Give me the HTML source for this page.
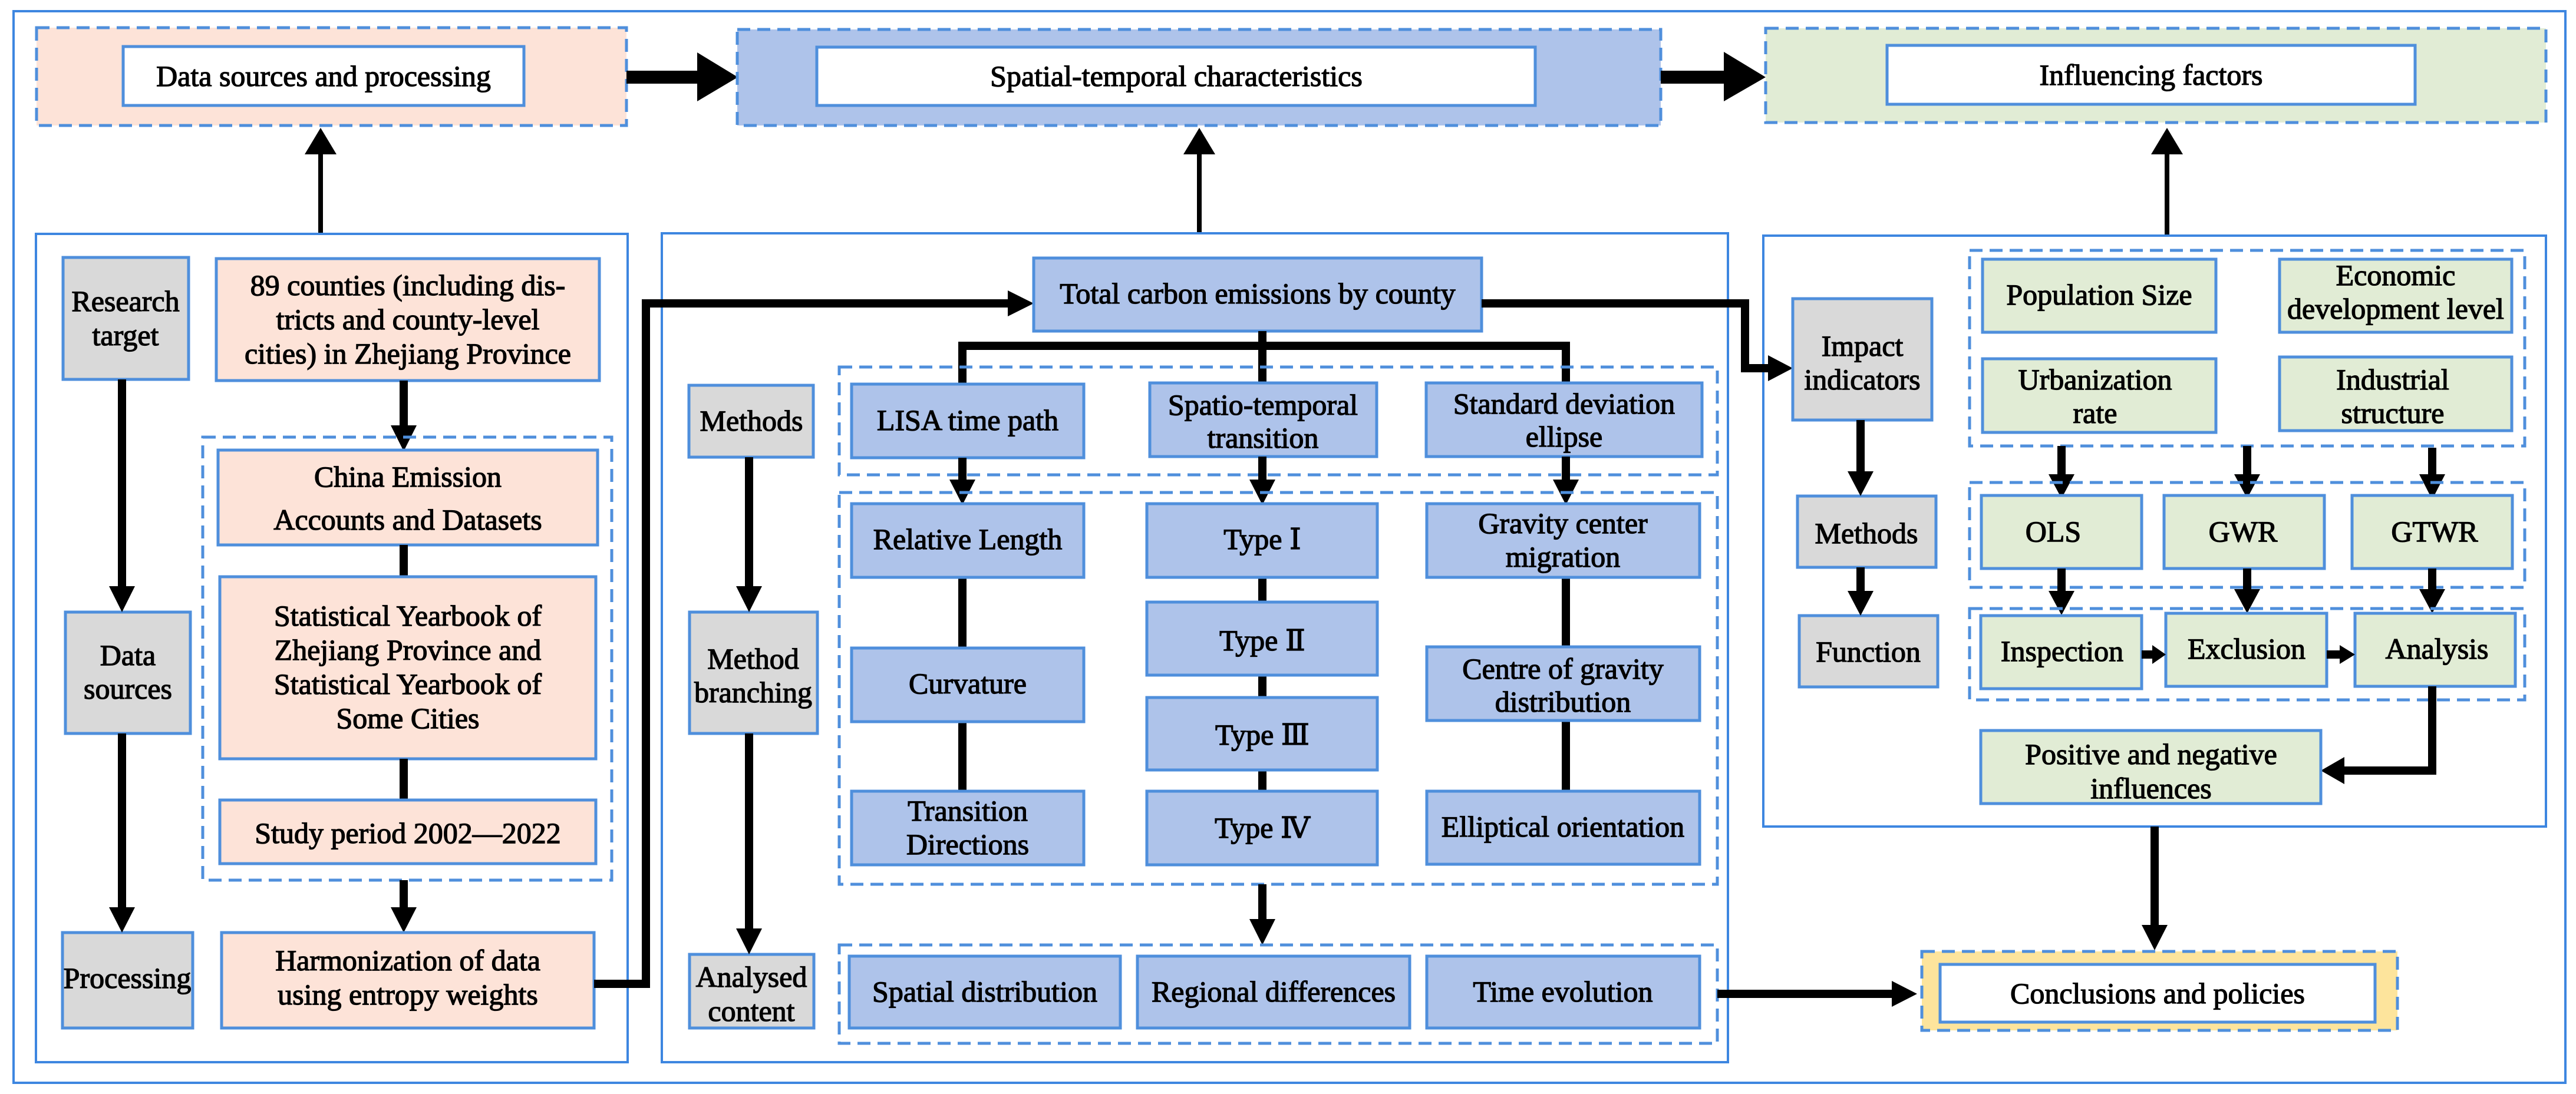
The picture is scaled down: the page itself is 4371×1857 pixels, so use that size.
<!DOCTYPE html>
<html><head><meta charset="utf-8"><style>
html,body{margin:0;padding:0;background:#fff}
svg{display:block}
text{font-family:"Liberation Serif","DejaVu Serif",serif;font-size:50px;fill:#000;stroke:#000;stroke-width:1.3;text-anchor:middle}
.b{stroke:#4f8fdc;stroke-width:5}
.d{stroke:#4f8fdc;stroke-width:5;stroke-dasharray:22 12}
.p{stroke:#3d86e0;stroke-width:4;fill:none}
.pk{fill:#fde3d8}.bl{fill:#aec3ea}.gr{fill:#e1ecd5}.gy{fill:#d9d9d9}.wh{fill:#fff}.ye{fill:#fde49c}
.l{stroke:#000;stroke-width:14;fill:none}
.t{stroke:#000;stroke-width:8;fill:none}
polygon{fill:#000}
</style></head><body>
<svg width="4371" height="1857" viewBox="0 0 4371 1857" xmlns="http://www.w3.org/2000/svg" font-family="Liberation Serif, DejaVu Serif, serif">
<rect x="23" y="19" width="4330" height="1819" class="p"/>

<!-- top row -->
<rect x="62" y="47" width="1001" height="166" class="pk d"/>
<rect x="209" y="79" width="680" height="100" class="wh b"/>
<text x="549" y="146">Data sources and processing</text>
<rect x="1063" y="120" width="122" height="22"/>
<polygon points="1183,89 1252,131 1183,172"/>
<rect x="1251" y="50" width="1567" height="163" class="bl d"/>
<rect x="1386" y="80" width="1219" height="99" class="wh b"/>
<text x="1996" y="146">Spatial-temporal characteristics</text>
<rect x="2818" y="120" width="109" height="22"/>
<polygon points="2925,88 2996,131 2925,172"/>
<rect x="2996" y="48" width="1324" height="160" class="gr d"/>
<rect x="3202" y="77" width="896" height="100" class="wh b"/>
<text x="3650" y="144">Influencing factors</text>

<line x1="544" y1="397" x2="544" y2="255" class="t"/>
<polygon points="517,262 571,262 544,217"/>
<line x1="2035" y1="396" x2="2035" y2="255" class="t"/>
<polygon points="2008,262 2062,262 2035,217"/>
<line x1="3677" y1="400" x2="3677" y2="255" class="t"/>
<polygon points="3650,262 3704,262 3677,217"/>

<!-- panels -->
<rect x="61" y="397" width="1004" height="1406" class="p"/>
<rect x="1123" y="396" width="1809" height="1407" class="p"/>
<rect x="2992" y="400" width="1328" height="1003" class="p"/>

<!-- left panel -->
<rect x="107" y="437" width="213" height="207" class="gy b"/>
<text x="213" y="528">Research</text><text x="213" y="586">target</text>
<rect x="367" y="439" width="650" height="207" class="pk b"/>
<text x="692" y="501">89 counties (including dis-</text>
<text x="692" y="559">tricts and county-level</text>
<text x="692" y="617">cities) in Zhejiang Province</text>
<line x1="685" y1="646" x2="685" y2="730" class="l"/>
<polygon points="663,722 707,722 685,766"/>
<rect x="344" y="742" width="694" height="752" fill="none" class="d"/>
<rect x="370" y="764" width="644" height="161" class="pk b"/>
<text x="692" y="826">China Emission</text><text x="692" y="899">Accounts and Datasets</text>
<line x1="685" y1="925" x2="685" y2="979" class="l"/>
<rect x="373" y="979" width="638" height="309" class="pk b"/>
<text x="692" y="1062">Statistical Yearbook of</text>
<text x="692" y="1120">Zhejiang Province and</text>
<text x="692" y="1178">Statistical Yearbook of</text>
<text x="692" y="1236">Some Cities</text>
<line x1="685" y1="1288" x2="685" y2="1358" class="l"/>
<rect x="373" y="1358" width="638" height="108" class="pk b"/>
<text x="692" y="1431">Study period 2002—2022</text>
<line x1="685" y1="1494" x2="685" y2="1545" class="l"/>
<polygon points="663,1540 707,1540 685,1583"/>
<rect x="376" y="1583" width="632" height="162" class="pk b"/>
<text x="692" y="1647">Harmonization of data</text>
<text x="692" y="1705">using entropy weights</text>
<rect x="111" y="1039" width="212" height="206" class="gy b"/>
<text x="217" y="1129">Data</text><text x="217" y="1186">sources</text>
<rect x="106" y="1583" width="221" height="162" class="gy b"/>
<text x="216" y="1677">Processing</text>
<line x1="207" y1="644" x2="207" y2="1000" class="l"/>
<polygon points="185,995 229,995 207,1039"/>
<line x1="207" y1="1245" x2="207" y2="1545" class="l"/>
<polygon points="185,1540 229,1540 207,1583"/>

<polyline points="1008,1670 1096,1670 1096,515 1715,515" class="l"/>
<polygon points="1710,493 1754,515 1710,537"/>

<!-- middle panel -->
<rect x="1754" y="438" width="760" height="124" class="bl b"/>
<text x="2134" y="515">Total carbon emissions by county</text>
<polyline points="1633,652 1633,587 2657,587 2657,650" class="l"/>
<line x1="2142" y1="562" x2="2142" y2="650" class="l"/>
<rect x="1424" y="623" width="1490" height="183" fill="none" class="d"/>
<rect x="1445" y="652" width="394" height="125" class="bl b"/>
<text x="1642" y="730">LISA time path</text>
<rect x="1951" y="650" width="385" height="125" class="bl b"/>
<text x="2143" y="704">Spatio-temporal</text><text x="2143" y="760">transition</text>
<rect x="2420" y="650" width="468" height="125" class="bl b"/>
<text x="2654" y="702">Standard deviation</text><text x="2654" y="758">ellipse</text>
<rect x="1169" y="654" width="211" height="122" class="gy b"/>
<text x="1275" y="731">Methods</text>

<line x1="1633" y1="777" x2="1633" y2="820" class="l"/><polygon points="1611,814 1655,814 1633,857"/>
<line x1="2142" y1="775" x2="2142" y2="820" class="l"/><polygon points="2120,814 2164,814 2142,857"/>
<line x1="2657" y1="775" x2="2657" y2="820" class="l"/><polygon points="2635,814 2679,814 2657,857"/>

<rect x="1424" y="836" width="1490" height="665" fill="none" class="d"/>
<line x1="1633" y1="980" x2="1633" y2="1343" class="l"/>
<line x1="2142" y1="980" x2="2142" y2="1343" class="l"/>
<line x1="2657" y1="980" x2="2657" y2="1343" class="l"/>
<rect x="1445" y="855" width="394" height="125" class="bl b"/>
<text x="1642" y="932">Relative Length</text>
<rect x="1946" y="855" width="391" height="125" class="bl b"/>
<text x="2142" y="932">Type Ⅰ</text>
<rect x="2421" y="855" width="463" height="125" class="bl b"/>
<text x="2652" y="905">Gravity center</text><text x="2652" y="962">migration</text>
<rect x="1445" y="1100" width="394" height="125" class="bl b"/>
<text x="1642" y="1177">Curvature</text>
<rect x="1946" y="1022" width="391" height="124" class="bl b"/>
<text x="2142" y="1104">Type Ⅱ</text>
<rect x="2421" y="1098" width="463" height="125" class="bl b"/>
<text x="2652" y="1152">Centre of gravity</text><text x="2652" y="1208">distribution</text>
<rect x="1946" y="1184" width="391" height="123" class="bl b"/>
<text x="2142" y="1264">Type Ⅲ</text>
<rect x="1445" y="1343" width="394" height="125" class="bl b"/>
<text x="1642" y="1393">Transition</text><text x="1642" y="1450">Directions</text>
<rect x="1946" y="1343" width="391" height="125" class="bl b"/>
<text x="2142" y="1422">Type Ⅳ</text>
<rect x="2421" y="1343" width="463" height="124" class="bl b"/>
<text x="2652" y="1420">Elliptical orientation</text>

<rect x="1170" y="1039" width="217" height="206" class="gy b"/>
<text x="1278" y="1135">Method</text><text x="1278" y="1192">branching</text>
<rect x="1170" y="1620" width="211" height="125" class="gy b"/>
<text x="1275" y="1675">Analysed</text><text x="1275" y="1733">content</text>
<line x1="1271" y1="776" x2="1271" y2="1000" class="l"/><polygon points="1249,995 1293,995 1271,1039"/>
<line x1="1271" y1="1245" x2="1271" y2="1580" class="l"/><polygon points="1249,1576 1293,1576 1271,1620"/>

<line x1="2142" y1="1501" x2="2142" y2="1565" class="l"/><polygon points="2120,1560 2164,1560 2142,1604"/>
<rect x="1424" y="1604" width="1490" height="167" fill="none" class="d"/>
<rect x="1441" y="1623" width="460" height="122" class="bl b"/>
<text x="1671" y="1700">Spatial distribution</text>
<rect x="1930" y="1623" width="462" height="122" class="bl b"/>
<text x="2161" y="1700">Regional differences</text>
<rect x="2421" y="1623" width="463" height="122" class="bl b"/>
<text x="2652" y="1700">Time evolution</text>
<line x1="2914" y1="1687" x2="3215" y2="1687" class="l"/>
<polygon points="3210,1665 3253,1687 3210,1709"/>

<!-- right panel -->
<polyline points="2514,515 2961,515 2961,625 3005,625" class="l"/>
<polygon points="3000,603 3042,625 3000,647"/>
<rect x="3042" y="507" width="236" height="206" class="gy b"/>
<text x="3160" y="604">Impact</text><text x="3160" y="661">indicators</text>
<rect x="3050" y="842" width="235" height="121" class="gy b"/>
<text x="3167" y="922">Methods</text>
<rect x="3053" y="1045" width="235" height="121" class="gy b"/>
<text x="3170" y="1123">Function</text>
<line x1="3157" y1="713" x2="3157" y2="805" class="l"/><polygon points="3135,800 3179,800 3157,842"/>
<line x1="3157" y1="963" x2="3157" y2="1008" class="l"/><polygon points="3135,1003 3179,1003 3157,1045"/>

<rect x="3342" y="425" width="942" height="332" fill="none" class="d"/>
<rect x="3364" y="440" width="396" height="124" class="gr b"/>
<text x="3562" y="517">Population Size</text>
<rect x="3868" y="440" width="394" height="124" class="gr b"/>
<text x="4065" y="484">Economic</text><text x="4065" y="541">development level</text>
<rect x="3364" y="609" width="396" height="125" class="gr b"/>
<text x="3555" y="661">Urbanization</text><text x="3555" y="718">rate</text>
<rect x="3868" y="606" width="394" height="125" class="gr b"/>
<text x="4060" y="661">Industrial</text><text x="4060" y="718">structure</text>

<line x1="3498" y1="757" x2="3498" y2="810" class="l"/><polygon points="3476,805 3520,805 3498,846"/>
<line x1="3813" y1="757" x2="3813" y2="810" class="l"/><polygon points="3791,805 3835,805 3813,846"/>
<line x1="4127" y1="760" x2="4127" y2="810" class="l"/><polygon points="4105,805 4149,805 4127,848"/>

<rect x="3342" y="819" width="942" height="178" fill="none" class="d"/>
<rect x="3362" y="841" width="272" height="124" class="gr b"/>
<text x="3484" y="919">OLS</text>
<rect x="3672" y="841" width="272" height="124" class="gr b"/>
<text x="3806" y="919">GWR</text>
<rect x="3991" y="841" width="272" height="124" class="gr b"/>
<text x="4131" y="919">GTWR</text>
<line x1="3498" y1="965" x2="3498" y2="1008" class="l"/><polygon points="3476,1003 3520,1003 3498,1044"/>
<line x1="3813" y1="965" x2="3813" y2="1005" class="l"/><polygon points="3791,1000 3835,1000 3813,1041"/>
<line x1="4127" y1="965" x2="4127" y2="1005" class="l"/><polygon points="4105,1000 4149,1000 4127,1041"/>

<rect x="3342" y="1033" width="942" height="155" fill="none" class="d"/>
<rect x="3361" y="1045" width="273" height="124" class="gr b"/>
<text x="3499" y="1122">Inspection</text>
<rect x="3675" y="1041" width="273" height="124" class="gr b"/>
<text x="3812" y="1118">Exclusion</text>
<rect x="3996" y="1041" width="272" height="124" class="gr b"/>
<text x="4135" y="1118">Analysis</text>
<line x1="3634" y1="1111" x2="3658" y2="1111" class="l"/><polygon points="3652,1095 3675,1111 3652,1127"/>
<line x1="3948" y1="1111" x2="3975" y2="1111" class="l"/><polygon points="3970,1095 3996,1111 3970,1127"/>

<polyline points="4127,1165 4127,1308 3972,1308" class="l"/>
<polygon points="3978,1285 3938,1308 3978,1331"/>
<rect x="3361" y="1240" width="577" height="124" class="gr b"/>
<text x="3650" y="1297">Positive and negative</text><text x="3650" y="1355">influences</text>

<line x1="3656" y1="1403" x2="3656" y2="1575" class="l"/>
<polygon points="3634,1570 3678,1570 3656,1613"/>
<rect x="3261" y="1615" width="807" height="134" class="ye d"/>
<rect x="3292" y="1637" width="738" height="98" class="wh b"/>
<text x="3661" y="1703">Conclusions and policies</text>
</svg>
</body></html>
